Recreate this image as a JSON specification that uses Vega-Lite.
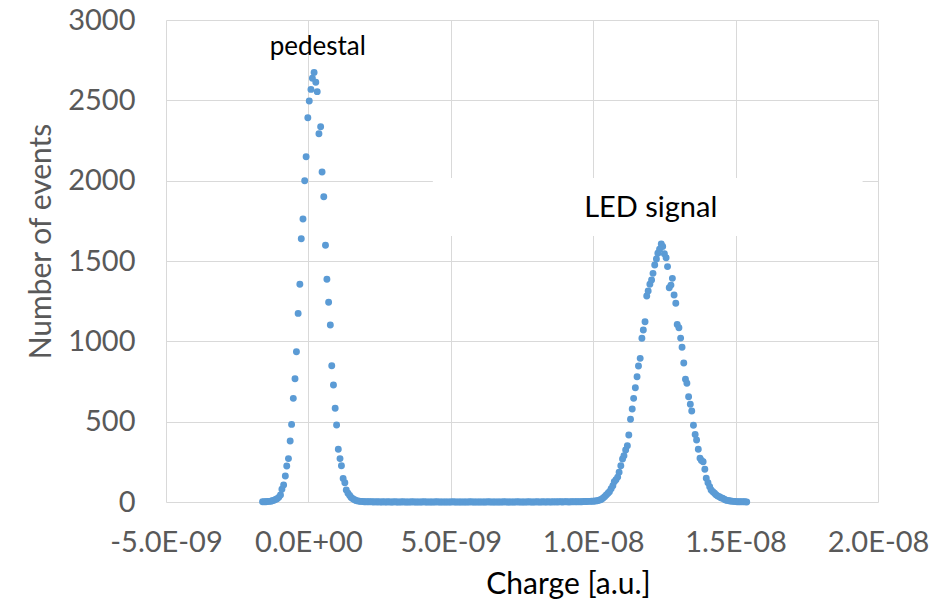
{
  "$schema": "https://vega.github.io/schema/vega-lite/v6.json",
  "width": 712,
  "height": 482,
  "autosize": {"type": "none"},
  "padding": {"left": 166, "top": 20, "right": 73, "bottom": 104},
  "background": "white",
  "config": {"view": {"stroke": null}, "font": "Lato"},
  "datasets": {
    "histogram": [
      {"charge": -1.61e-9, "events": 1}, {"charge": -1.55e-9, "events": 1}, {"charge": -1.49e-9, "events": 2},
      {"charge": -1.44e-9, "events": 3}, {"charge": -1.38e-9, "events": 4}, {"charge": -1.32e-9, "events": 5},
      {"charge": -1.27e-9, "events": 8}, {"charge": -1.21e-9, "events": 11}, {"charge": -1.15e-9, "events": 15},
      {"charge": -1.10e-9, "events": 21}, {"charge": -1.04e-9, "events": 29}, {"charge": -0.98e-9, "events": 44},
      {"charge": -0.93e-9, "events": 79}, {"charge": -0.87e-9, "events": 106}, {"charge": -0.81e-9, "events": 162},
      {"charge": -0.76e-9, "events": 224}, {"charge": -0.70e-9, "events": 270}, {"charge": -0.64e-9, "events": 380},
      {"charge": -0.59e-9, "events": 483}, {"charge": -0.53e-9, "events": 645}, {"charge": -0.47e-9, "events": 767},
      {"charge": -0.42e-9, "events": 935}, {"charge": -0.36e-9, "events": 1174}, {"charge": -0.30e-9, "events": 1355},
      {"charge": -0.25e-9, "events": 1639}, {"charge": -0.19e-9, "events": 1761}, {"charge": -0.13e-9, "events": 2000},
      {"charge": -0.08e-9, "events": 2149}, {"charge": -0.02e-9, "events": 2392}, {"charge": 0.03e-9, "events": 2496},
      {"charge": 0.09e-9, "events": 2568}, {"charge": 0.14e-9, "events": 2637}, {"charge": 0.20e-9, "events": 2674},
      {"charge": 0.26e-9, "events": 2612}, {"charge": 0.31e-9, "events": 2554}, {"charge": 0.37e-9, "events": 2292},
      {"charge": 0.43e-9, "events": 2336}, {"charge": 0.48e-9, "events": 2054}, {"charge": 0.54e-9, "events": 1900},
      {"charge": 0.60e-9, "events": 1598}, {"charge": 0.65e-9, "events": 1386}, {"charge": 0.71e-9, "events": 1243},
      {"charge": 0.77e-9, "events": 1102}, {"charge": 0.82e-9, "events": 848}, {"charge": 0.88e-9, "events": 728},
      {"charge": 0.94e-9, "events": 583}, {"charge": 0.99e-9, "events": 479}, {"charge": 1.05e-9, "events": 328},
      {"charge": 1.11e-9, "events": 270}, {"charge": 1.16e-9, "events": 226}, {"charge": 1.22e-9, "events": 147},
      {"charge": 1.28e-9, "events": 120}, {"charge": 1.33e-9, "events": 75}, {"charge": 1.39e-9, "events": 55},
      {"charge": 1.45e-9, "events": 40}, {"charge": 1.50e-9, "events": 28}, {"charge": 1.56e-9, "events": 20},
      {"charge": 1.62e-9, "events": 14}, {"charge": 1.67e-9, "events": 10}, {"charge": 1.73e-9, "events": 7},
      {"charge": 1.79e-9, "events": 5}, {"charge": 1.84e-9, "events": 4}, {"charge": 1.90e-9, "events": 3},
      {"charge": 1.96e-9, "events": 2}, {"charge": 2.01e-9, "events": 2}, {"charge": 2.07e-9, "events": 1},
      {"charge": 2.12e-9, "events": 1}, {"charge": 2.18e-9, "events": 1}, {"charge": 2.24e-9, "events": 1},
      {"charge": 2.29e-9, "events": 0}, {"charge": 2.35e-9, "events": 1}, {"charge": 2.41e-9, "events": 0},
      {"charge": 2.46e-9, "events": 1}, {"charge": 2.52e-9, "events": 0}, {"charge": 2.58e-9, "events": 0},
      {"charge": 2.63e-9, "events": 1}, {"charge": 2.69e-9, "events": 0}, {"charge": 2.75e-9, "events": 0},
      {"charge": 2.80e-9, "events": 1}, {"charge": 2.86e-9, "events": 0}, {"charge": 2.92e-9, "events": 0},
      {"charge": 2.97e-9, "events": 0}, {"charge": 3.03e-9, "events": 1}, {"charge": 3.09e-9, "events": 0},
      {"charge": 3.14e-9, "events": 0}, {"charge": 3.20e-9, "events": 0}, {"charge": 3.26e-9, "events": 0},
      {"charge": 3.31e-9, "events": 1}, {"charge": 3.37e-9, "events": 0}, {"charge": 3.43e-9, "events": 0},
      {"charge": 3.48e-9, "events": 0}, {"charge": 3.54e-9, "events": 0}, {"charge": 3.60e-9, "events": 0},
      {"charge": 3.65e-9, "events": 1}, {"charge": 3.71e-9, "events": 0}, {"charge": 3.77e-9, "events": 0},
      {"charge": 3.82e-9, "events": 0}, {"charge": 3.88e-9, "events": 0}, {"charge": 3.94e-9, "events": 0},
      {"charge": 3.99e-9, "events": 0}, {"charge": 4.05e-9, "events": 1}, {"charge": 4.11e-9, "events": 0},
      {"charge": 4.16e-9, "events": 0}, {"charge": 4.22e-9, "events": 0}, {"charge": 4.28e-9, "events": 0},
      {"charge": 4.33e-9, "events": 0}, {"charge": 4.39e-9, "events": 0}, {"charge": 4.45e-9, "events": 0},
      {"charge": 4.50e-9, "events": 1}, {"charge": 4.56e-9, "events": 0}, {"charge": 4.62e-9, "events": 0},
      {"charge": 4.67e-9, "events": 0}, {"charge": 4.73e-9, "events": 0}, {"charge": 4.79e-9, "events": 0},
      {"charge": 4.84e-9, "events": 0}, {"charge": 4.90e-9, "events": 0}, {"charge": 4.96e-9, "events": 0},
      {"charge": 5.01e-9, "events": 0}, {"charge": 5.07e-9, "events": 1}, {"charge": 5.13e-9, "events": 0},
      {"charge": 5.18e-9, "events": 0}, {"charge": 5.24e-9, "events": 0}, {"charge": 5.30e-9, "events": 0},
      {"charge": 5.35e-9, "events": 0}, {"charge": 5.41e-9, "events": 0}, {"charge": 5.47e-9, "events": 0},
      {"charge": 5.52e-9, "events": 0}, {"charge": 5.58e-9, "events": 0}, {"charge": 5.64e-9, "events": 0},
      {"charge": 5.69e-9, "events": 1}, {"charge": 5.75e-9, "events": 0}, {"charge": 5.81e-9, "events": 0},
      {"charge": 5.86e-9, "events": 0}, {"charge": 5.92e-9, "events": 0}, {"charge": 5.98e-9, "events": 0},
      {"charge": 6.03e-9, "events": 0}, {"charge": 6.09e-9, "events": 0}, {"charge": 6.15e-9, "events": 0},
      {"charge": 6.20e-9, "events": 0}, {"charge": 6.26e-9, "events": 0}, {"charge": 6.32e-9, "events": 1},
      {"charge": 6.37e-9, "events": 0}, {"charge": 6.43e-9, "events": 0}, {"charge": 6.49e-9, "events": 0},
      {"charge": 6.54e-9, "events": 0}, {"charge": 6.60e-9, "events": 0}, {"charge": 6.66e-9, "events": 0},
      {"charge": 6.71e-9, "events": 0}, {"charge": 6.77e-9, "events": 0}, {"charge": 6.83e-9, "events": 0},
      {"charge": 6.88e-9, "events": 1}, {"charge": 6.94e-9, "events": 0}, {"charge": 7.00e-9, "events": 0},
      {"charge": 7.05e-9, "events": 0}, {"charge": 7.11e-9, "events": 0}, {"charge": 7.17e-9, "events": 0},
      {"charge": 7.22e-9, "events": 0}, {"charge": 7.28e-9, "events": 0}, {"charge": 7.34e-9, "events": 1},
      {"charge": 7.39e-9, "events": 0}, {"charge": 7.45e-9, "events": 0}, {"charge": 7.51e-9, "events": 0},
      {"charge": 7.56e-9, "events": 0}, {"charge": 7.62e-9, "events": 0}, {"charge": 7.68e-9, "events": 0},
      {"charge": 7.73e-9, "events": 1}, {"charge": 7.79e-9, "events": 0}, {"charge": 7.85e-9, "events": 0},
      {"charge": 7.90e-9, "events": 0}, {"charge": 7.96e-9, "events": 0}, {"charge": 8.02e-9, "events": 1},
      {"charge": 8.07e-9, "events": 0}, {"charge": 8.13e-9, "events": 0}, {"charge": 8.19e-9, "events": 0},
      {"charge": 8.24e-9, "events": 1}, {"charge": 8.30e-9, "events": 0}, {"charge": 8.36e-9, "events": 0},
      {"charge": 8.41e-9, "events": 1}, {"charge": 8.47e-9, "events": 0}, {"charge": 8.53e-9, "events": 0},
      {"charge": 8.58e-9, "events": 1}, {"charge": 8.64e-9, "events": 0}, {"charge": 8.70e-9, "events": 1},
      {"charge": 8.75e-9, "events": 0}, {"charge": 8.81e-9, "events": 1}, {"charge": 8.87e-9, "events": 1},
      {"charge": 8.92e-9, "events": 0}, {"charge": 8.98e-9, "events": 1}, {"charge": 9.04e-9, "events": 1},
      {"charge": 9.09e-9, "events": 1}, {"charge": 9.15e-9, "events": 0}, {"charge": 9.21e-9, "events": 1},
      {"charge": 9.26e-9, "events": 1}, {"charge": 9.32e-9, "events": 1}, {"charge": 9.38e-9, "events": 2},
      {"charge": 9.43e-9, "events": 1}, {"charge": 9.49e-9, "events": 2}, {"charge": 9.55e-9, "events": 2},
      {"charge": 9.60e-9, "events": 2}, {"charge": 9.66e-9, "events": 3}, {"charge": 9.72e-9, "events": 3},
      {"charge": 9.77e-9, "events": 3}, {"charge": 9.83e-9, "events": 4}, {"charge": 9.89e-9, "events": 4},
      {"charge": 9.94e-9, "events": 5}, {"charge": 10.00e-9, "events": 5}, {"charge": 10.06e-9, "events": 6},
      {"charge": 10.11e-9, "events": 7}, {"charge": 10.17e-9, "events": 9}, {"charge": 10.23e-9, "events": 12},
      {"charge": 10.28e-9, "events": 16}, {"charge": 10.34e-9, "events": 23}, {"charge": 10.40e-9, "events": 33},
      {"charge": 10.46e-9, "events": 44}, {"charge": 10.52e-9, "events": 54}, {"charge": 10.57e-9, "events": 64},
      {"charge": 10.63e-9, "events": 82}, {"charge": 10.69e-9, "events": 101}, {"charge": 10.74e-9, "events": 126},
      {"charge": 10.80e-9, "events": 138}, {"charge": 10.86e-9, "events": 155}, {"charge": 10.91e-9, "events": 185},
      {"charge": 10.97e-9, "events": 226}, {"charge": 11.03e-9, "events": 268}, {"charge": 11.08e-9, "events": 288},
      {"charge": 11.14e-9, "events": 324}, {"charge": 11.20e-9, "events": 350}, {"charge": 11.25e-9, "events": 417},
      {"charge": 11.31e-9, "events": 515}, {"charge": 11.37e-9, "events": 579}, {"charge": 11.42e-9, "events": 645},
      {"charge": 11.48e-9, "events": 711}, {"charge": 11.54e-9, "events": 780}, {"charge": 11.59e-9, "events": 846},
      {"charge": 11.65e-9, "events": 894}, {"charge": 11.71e-9, "events": 1019}, {"charge": 11.76e-9, "events": 1071},
      {"charge": 11.82e-9, "events": 1122}, {"charge": 11.88e-9, "events": 1282}, {"charge": 11.93e-9, "events": 1313},
      {"charge": 11.99e-9, "events": 1355}, {"charge": 12.05e-9, "events": 1382}, {"charge": 12.10e-9, "events": 1423},
      {"charge": 12.16e-9, "events": 1475}, {"charge": 12.22e-9, "events": 1512}, {"charge": 12.27e-9, "events": 1548},
      {"charge": 12.33e-9, "events": 1573}, {"charge": 12.39e-9, "events": 1606}, {"charge": 12.44e-9, "events": 1590},
      {"charge": 12.50e-9, "events": 1545}, {"charge": 12.56e-9, "events": 1520}, {"charge": 12.61e-9, "events": 1465},
      {"charge": 12.67e-9, "events": 1334}, {"charge": 12.73e-9, "events": 1350}, {"charge": 12.78e-9, "events": 1392},
      {"charge": 12.84e-9, "events": 1288}, {"charge": 12.90e-9, "events": 1237}, {"charge": 12.95e-9, "events": 1105},
      {"charge": 13.01e-9, "events": 1085}, {"charge": 13.07e-9, "events": 1020}, {"charge": 13.12e-9, "events": 963},
      {"charge": 13.18e-9, "events": 865}, {"charge": 13.24e-9, "events": 764}, {"charge": 13.29e-9, "events": 739},
      {"charge": 13.35e-9, "events": 655}, {"charge": 13.41e-9, "events": 608}, {"charge": 13.46e-9, "events": 566},
      {"charge": 13.52e-9, "events": 478}, {"charge": 13.58e-9, "events": 420}, {"charge": 13.63e-9, "events": 386},
      {"charge": 13.69e-9, "events": 328}, {"charge": 13.75e-9, "events": 272}, {"charge": 13.80e-9, "events": 258},
      {"charge": 13.86e-9, "events": 251}, {"charge": 13.92e-9, "events": 204}, {"charge": 13.97e-9, "events": 148},
      {"charge": 14.03e-9, "events": 120}, {"charge": 14.09e-9, "events": 95}, {"charge": 14.14e-9, "events": 75},
      {"charge": 14.20e-9, "events": 64}, {"charge": 14.26e-9, "events": 54}, {"charge": 14.31e-9, "events": 45},
      {"charge": 14.37e-9, "events": 38}, {"charge": 14.43e-9, "events": 33}, {"charge": 14.48e-9, "events": 27},
      {"charge": 14.54e-9, "events": 23}, {"charge": 14.60e-9, "events": 17}, {"charge": 14.65e-9, "events": 12},
      {"charge": 14.71e-9, "events": 10}, {"charge": 14.77e-9, "events": 8}, {"charge": 14.82e-9, "events": 6},
      {"charge": 14.88e-9, "events": 5}, {"charge": 14.94e-9, "events": 4}, {"charge": 14.99e-9, "events": 3},
      {"charge": 15.05e-9, "events": 2}, {"charge": 15.11e-9, "events": 2}, {"charge": 15.16e-9, "events": 2},
      {"charge": 15.22e-9, "events": 1}, {"charge": 15.28e-9, "events": 1}, {"charge": 15.33e-9, "events": 1},
      {"charge": 15.39e-9, "events": 0}
    ],
    "labelBackground": [
      {"charge_from": 4.37e-9, "charge_to": 19.46e-9, "events_from": 1656, "events_to": 2017}
    ],
    "notes": [
      {"label": "pedestal", "charge": 0.33e-9, "events": 2782},
      {"label": "LED signal", "charge": 12.02e-9, "events": 1774}
    ]
  },
  "layer": [
    {
      "data": {"name": "histogram"},
      "mark": {"type": "circle", "size": 48, "color": "#5B9BD5", "opacity": 1},
      "encoding": {
        "x": {
          "field": "charge",
          "type": "quantitative",
          "scale": {"domain": [-5e-9, 2e-8], "nice": false, "zero": false},
          "axis": {
            "title": "Charge [a.u.]",
            "values": [-5e-9, 0, 5e-9, 1e-8, 1.5e-8, 2e-8],
            "labelExpr": "datum.value < -1e-9 ? '-5.0E-09' : datum.value < 1e-9 ? '0.0E+00' : datum.value < 6e-9 ? '5.0E-09' : datum.value < 1.1e-8 ? '1.0E-08' : datum.value < 1.6e-8 ? '1.5E-08' : '2.0E-08'",
            "grid": true,
            "gridColor": "#D9D9D9",
            "gridWidth": 1,
            "domain": false,
            "ticks": false,
            "tickSize": 0,
            "labelFont": "Lato",
            "labelFontSize": 29,
            "labelColor": "#595959",
            "labelBaseline": "alphabetic",
            "labelPadding": 49,
            "labelFlush": false,
            "labelOverlap": false,
            "titleFont": "Lato",
            "titleFontSize": 30,
            "titleFontWeight": "normal",
            "titleColor": "#000000",
            "titleAlign": "center",
            "titleBaseline": "alphabetic",
            "titleX": 402,
            "titleY": 91
          }
        },
        "y": {
          "field": "events",
          "type": "quantitative",
          "scale": {"domain": [0, 3000], "nice": false},
          "axis": {
            "title": "Number of events",
            "values": [0, 500, 1000, 1500, 2000, 2500, 3000],
            "format": "d",
            "grid": true,
            "gridColor": "#D9D9D9",
            "gridWidth": 1,
            "domain": false,
            "ticks": false,
            "tickSize": 0,
            "labelFont": "Lato",
            "labelFontSize": 29,
            "labelColor": "#595959",
            "labelPadding": 31,
            "labelFlush": false,
            "labelOverlap": false,
            "titleFont": "Lato",
            "titleFontSize": 30,
            "titleFontWeight": "normal",
            "titleColor": "#595959",
            "titleAlign": "center",
            "titleBaseline": "alphabetic",
            "titleAngle": 270,
            "titleX": -116,
            "titleY": 221
          }
        }
      }
    },
    {
      "data": {"name": "labelBackground"},
      "mark": {"type": "rect", "fill": "#FFFFFF", "stroke": null},
      "encoding": {
        "x": {"field": "charge_from", "type": "quantitative"},
        "x2": {"field": "charge_to"},
        "y": {"field": "events_from", "type": "quantitative"},
        "y2": {"field": "events_to"}
      }
    },
    {
      "data": {"name": "notes"},
      "transform": [{"filter": "datum.label == 'pedestal'"}],
      "mark": {"type": "text", "font": "Lato", "fontSize": 26, "color": "#000000", "align": "center", "baseline": "alphabetic"},
      "encoding": {
        "x": {"field": "charge", "type": "quantitative"},
        "y": {"field": "events", "type": "quantitative"},
        "text": {"field": "label"}
      }
    },
    {
      "data": {"name": "notes"},
      "transform": [{"filter": "datum.label == 'LED signal'"}],
      "mark": {"type": "text", "font": "Lato", "fontSize": 29, "color": "#000000", "align": "center", "baseline": "alphabetic"},
      "encoding": {
        "x": {"field": "charge", "type": "quantitative"},
        "y": {"field": "events", "type": "quantitative"},
        "text": {"field": "label"}
      }
    }
  ]
}
